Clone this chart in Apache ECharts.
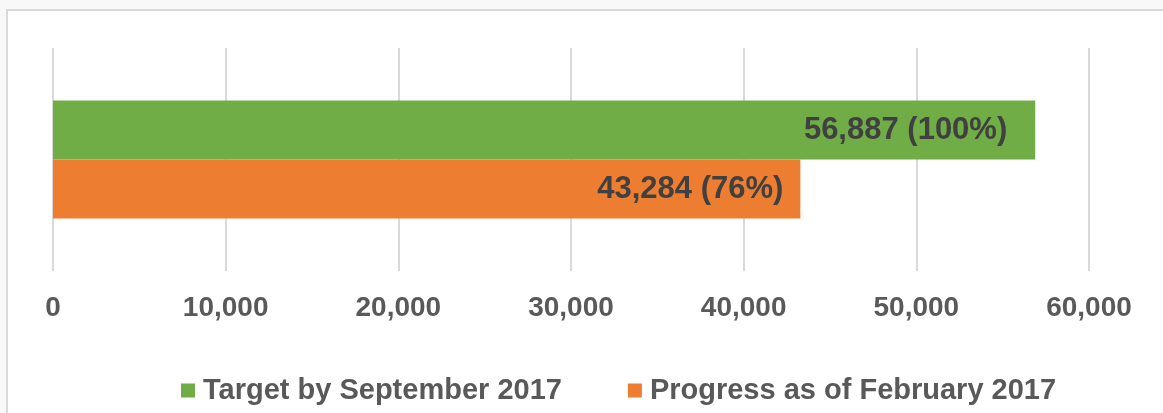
<!DOCTYPE html>
<html>
<head>
<meta charset="utf-8">
<script src="https://cdn.jsdelivr.net/npm/echarts@6/dist/echarts.min.js"></script>
<style>
html,body{margin:0;padding:0;background:#f8f8f8;}
#chart{width:1163px;height:413px;}
</style>
</head>
<body>
<div id="chart"></div>
<script>
const categories = ['Total'];
const seriesNames = ['Target by September 2017', 'Progress as of February 2017'];
const targetValues = [56887];
const progressValues = [43284];
const targetPct = [100];
const progressPct = [76];
const xTicks = [0, 10000, 20000, 30000, 40000, 50000, 60000];

const fmt = v => v.toLocaleString('en-US');
const chart = echarts.init(document.getElementById('chart'), null, {renderer: 'canvas'});
const font = 'Liberation Sans, Arial, sans-serif';

chart.setOption({
  backgroundColor: '#f8f8f8',
  animation: false,
  graphic: [{
    type: 'rect', z: -10, silent: true,
    shape: {x: 7, y: 10, width: 1200, height: 500},
    style: {fill: '#ffffff', stroke: '#d9d9d9', lineWidth: 2}
  }],
  grid: {left: 53, right: 74, top: 48, bottom: 142, containLabel: false},
  legend: {
    top: 376, left: 181, padding: 0,
    icon: 'rect', itemWidth: 14, itemHeight: 14, itemGap: 66,
    textStyle: {color: '#595959', fontFamily: font, fontWeight: 'bold', fontSize: 29, padding: [0, 0, 0, 3]},
    data: seriesNames
  },
  xAxis: {
    type: 'value', min: xTicks[0], max: xTicks[xTicks.length - 1], interval: 10000,
    axisLine: {show: false}, axisTick: {show: false},
    splitLine: {lineStyle: {color: '#d9d9d9', width: 2}},
    axisLabel: {color: '#595959', fontFamily: font, fontWeight: 'bold', fontSize: 28, margin: 23, formatter: v => fmt(v)}
  },
  yAxis: {
    type: 'category', data: categories, inverse: true,
    axisLine: {show: false}, axisTick: {show: false}, axisLabel: {show: false}
  },
  series: [{
    name: seriesNames[0], type: 'bar', data: targetValues, barWidth: 59, barGap: '0%',
    itemStyle: {color: '#70AD47'},
    label: {show: true, position: 'insideRight', distance: 28, color: '#404040', fontFamily: font, fontWeight: 'bold', fontSize: 31,
      formatter: p => fmt(p.value) + ' (' + targetPct[p.dataIndex] + '%)'}
  }, {
    name: seriesNames[1], type: 'bar', data: progressValues, barWidth: 59, barGap: '0%',
    itemStyle: {color: '#ED7D31'},
    label: {show: true, position: 'insideRight', distance: 17, color: '#404040', fontFamily: font, fontWeight: 'bold', fontSize: 31,
      formatter: p => fmt(p.value) + ' (' + progressPct[p.dataIndex] + '%)'}
  }]
});
</script>
</body>
</html>
